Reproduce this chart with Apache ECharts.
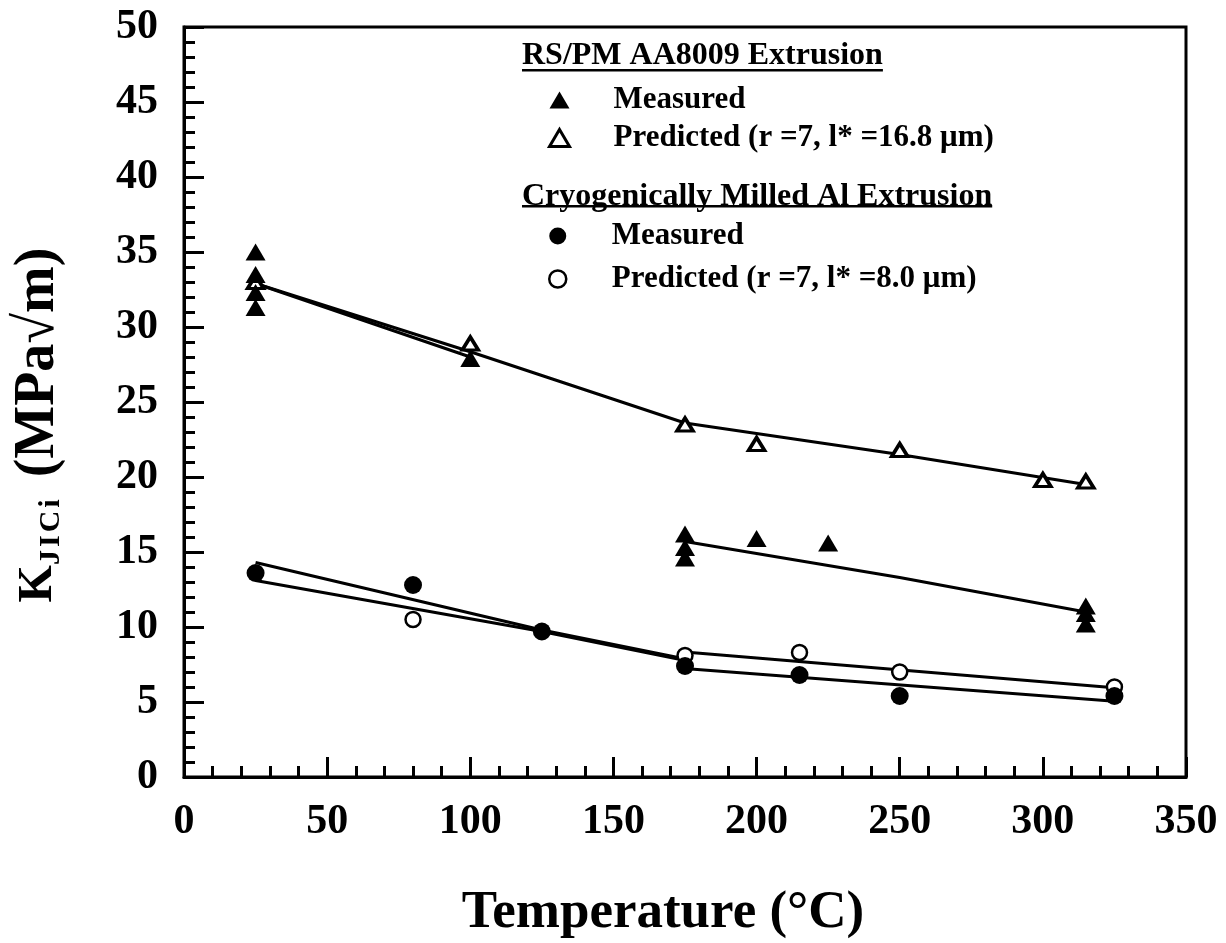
<!DOCTYPE html>
<html>
<head>
<meta charset="utf-8">
<title>Fracture toughness vs temperature</title>
<script src="https://cdn.jsdelivr.net/npm/echarts@6/dist/echarts.min.js"></script>
<style>
  html, body { margin: 0; padding: 0; background: #fff; }
  #chart { width: 1226px; height: 943px; }
</style>
</head>
<body>
<div id="chart"></div>
<script>
// Temperature (°C) and K_JICi (MPa√m) values

// RS/PM AA8009 extrusion
const rsMeasuredT = [25, 25, 25, 25, 100, 175, 175, 175, 200, 225, 315, 315, 315];
const rsMeasuredK = [35.0, 33.5, 32.3, 31.3, 27.9, 16.2, 15.3, 14.6, 15.9, 15.6, 11.4, 10.9, 10.2];
const rsPredictedT = [25, 100, 175, 200, 250, 300, 315];
const rsPredictedK = [33.0, 28.9, 23.5, 22.2, 21.8, 19.8, 19.7];

// Trend lines for the AA8009 data (null splits the measured line in two)
const rsPredLineT = [25, 100, 175, 250, 315];
const rsPredLineK = [32.9, 28.35, 23.6, 21.5, 19.5];
const rsMeasLineT = [25, 100, null, 175, 250, 315];
const rsMeasLineK = [32.9, 28.0, null, 15.7, 13.3, 11.0];

// Cryogenically milled Al extrusion
const cmMeasuredT = [25, 80, 125, 175, 215, 250, 325];
const cmMeasuredK = [13.6, 12.8, 9.7, 7.4, 6.8, 5.4, 5.4];
const cmPredictedT = [80, 175, 215, 250, 325];
const cmPredictedK = [10.5, 8.1, 8.3, 7.0, 6.0];

// Trend lines for the cryomilled data
const cmPredLineT = [25, 125, 173, 177, 325];
const cmPredLineK = [14.3, 9.8, 7.95, 8.3, 5.95];
const cmMeasLineT = [25, 125, 173, 177, 325];
const cmMeasLineK = [13.1, 9.7, 7.85, 7.2, 5.05];

// Axis ranges and tick steps
const xRange = [0, 350];
const xStep = 50;
const yRange = [0, 50];
const yStep = 5;

// Legend and axis texts
const groupTitles = ['RS/PM AA8009 Extrusion', 'Cryogenically Milled Al Extrusion'];
const entryLabels = {
  rsMeas: 'Measured',
  rsPred: 'Predicted (r =7, l* =16.8 \u03bcm)',
  cmMeas: 'Measured',
  cmPred: 'Predicted (r =7, l* =8.0 \u03bcm)'
};
const xTitle = 'Temperature (\u00b0C)';
const yTitleMain = 'K';
const yTitleSub = ['J', 'I', 'C', 'i'];
const yTitleUnit = '(MPa\u221am)';

const SERIF = "'Liberation Serif', 'Times New Roman', 'DejaVu Serif', serif";

function pairs(xs, ys) {
  return xs.map((x, i) => (x === null ? [null, null] : [x, ys[i]]));
}

function textWidth(str, size) {
  const ctx = document.createElement('canvas').getContext('2d');
  ctx.font = 'bold ' + size + 'px ' + SERIF;
  return ctx.measureText(str).width;
}

const chart = echarts.init(document.getElementById('chart'), null, { renderer: 'canvas' });

const axisCommon = {
  type: 'value',
  axisLine: { show: true, onZero: false, lineStyle: { color: '#000', width: 3 } },
  axisTick: { show: true, inside: true, length: 20, lineStyle: { color: '#000', width: 3 } },
  minorTick: { show: true, splitNumber: 5, length: 11, lineStyle: { color: '#000', width: 3 } },
  splitLine: { show: false },
  minorSplitLine: { show: false },
  axisLabel: { color: '#000', fontFamily: SERIF, fontWeight: 'bold', fontSize: 42 }
};

const lineSeries = (name, xs, ys) => ({
  name, type: 'line', data: pairs(xs, ys), showSymbol: false, symbol: 'none',
  connectNulls: false, silent: true, z: 2,
  lineStyle: { color: '#000', width: 3 }
});

const headingSize = 32;
const legendText = {
  color: '#000', fontFamily: SERIF, fontWeight: 'bold', fontSize: 31,
  lineHeight: 32, padding: [0, 0, 0, 39]
};
const openIcon = { color: '#fff', borderColor: '#000', borderWidth: 3 };

const option = {
  backgroundColor: '#fff',
  animation: false,
  grid: {
    left: 184, right: 40, top: 27, bottom: 166,
    show: true, borderColor: '#000', borderWidth: 3, backgroundColor: 'transparent'
  },
  xAxis: Object.assign({}, axisCommon, {
    min: xRange[0], max: xRange[1], interval: xStep,
    axisLabel: Object.assign({}, axisCommon.axisLabel, { margin: 24 })
  }),
  yAxis: Object.assign({}, axisCommon, {
    min: yRange[0], max: yRange[1], interval: yStep,
    axisLabel: Object.assign({}, axisCommon.axisLabel, { margin: 26 })
  }),
  legend: [
    {
      orient: 'vertical', left: 548, top: 84, padding: 0,
      itemWidth: 20, itemHeight: 17, itemGap: 6, selectedMode: false,
      data: [
        { name: 'rsMeas' },
        { name: 'rsPred', itemStyle: openIcon }
      ],
      formatter: (n) => entryLabels[n],
      textStyle: legendText
    },
    {
      orient: 'vertical', left: 548, top: 220, padding: 0,
      itemWidth: 20, itemHeight: 17, itemGap: 11, selectedMode: false,
      data: [
        { name: 'cmMeas' },
        { name: 'cmPred', itemStyle: { color: '#fff', borderColor: '#000', borderWidth: 2.5 } }
      ],
      formatter: (n) => entryLabels[n],
      textStyle: legendText
    }
  ],
  graphic: [
    // legend group headings with underlines
    {
      type: 'text', left: 522, top: 40,
      style: { text: groupTitles[0], fill: '#000', font: 'bold ' + headingSize + 'px ' + SERIF }
    },
    {
      type: 'rect', shape: { x: 522, y: 69, width: textWidth(groupTitles[0], headingSize), height: 2.5 },
      style: { fill: '#000' }
    },
    {
      type: 'text', left: 522, top: 181,
      style: { text: groupTitles[1], fill: '#000', font: 'bold ' + headingSize + 'px ' + SERIF }
    },
    {
      type: 'rect', shape: { x: 522, y: 205, width: textWidth(groupTitles[1], headingSize), height: 2.5 },
      style: { fill: '#000' }
    },
    // horizontal axis title
    {
      type: 'text', x: 663, y: 913,
      style: {
        text: xTitle, align: 'center', verticalAlign: 'middle', fill: '#000',
        font: 'bold 53px ' + SERIF
      }
    },
    // vertical axis title with subscript
    {
      type: 'text', x: 39, y: 425, rotation: Math.PI / 2,
      style: {
        text: '{k|' + yTitleMain + '}' + yTitleSub.map((c) => '{s|' + c + '}').join('') +
              '{g| }{u|' + yTitleUnit + '}',
        align: 'center', verticalAlign: 'middle', fill: '#000',
        rich: {
          k: { fontFamily: SERIF, fontWeight: 'bold', fontSize: 48, lineHeight: 56, verticalAlign: 'middle', fill: '#000' },
          s: { fontFamily: SERIF, fontWeight: 'bold', fontSize: 30, lineHeight: 30, verticalAlign: 'bottom', padding: [0, 3, 1, 0], fill: '#000' },
          g: { fontFamily: SERIF, fontSize: 36, lineHeight: 56, padding: [0, 10, 0, 0], fill: '#000' },
          u: { fontFamily: SERIF, fontWeight: 'bold', fontSize: 56, lineHeight: 56, verticalAlign: 'middle', fill: '#000' }
        }
      }
    }
  ],
  series: [
    lineSeries('rsPredLine', rsPredLineT, rsPredLineK),
    lineSeries('rsMeasLine', rsMeasLineT, rsMeasLineK),
    lineSeries('cmPredLine', cmPredLineT, cmPredLineK),
    lineSeries('cmMeasLine', cmMeasLineT, cmMeasLineK),
    {
      name: 'rsPred', type: 'scatter', data: pairs(rsPredictedT, rsPredictedK),
      symbol: 'triangle', symbolSize: [16, 13], z: 3,
      itemStyle: { color: '#fff', borderColor: '#000', borderWidth: 3.5, opacity: 1 }
    },
    {
      name: 'rsMeas', type: 'scatter', data: pairs(rsMeasuredT, rsMeasuredK),
      symbol: 'triangle', symbolSize: [20, 17], z: 4,
      itemStyle: { color: '#000', opacity: 1 }
    },
    {
      name: 'cmPred', type: 'scatter', data: pairs(cmPredictedT, cmPredictedK),
      symbol: 'circle', symbolSize: 15, z: 3,
      itemStyle: { color: '#fff', borderColor: '#000', borderWidth: 2.5, opacity: 1 }
    },
    {
      name: 'cmMeas', type: 'scatter', data: pairs(cmMeasuredT, cmMeasuredK),
      symbol: 'circle', symbolSize: 18, z: 4,
      itemStyle: { color: '#000', opacity: 1 }
    }
  ]
};

chart.setOption(option);
</script>
</body>
</html>
